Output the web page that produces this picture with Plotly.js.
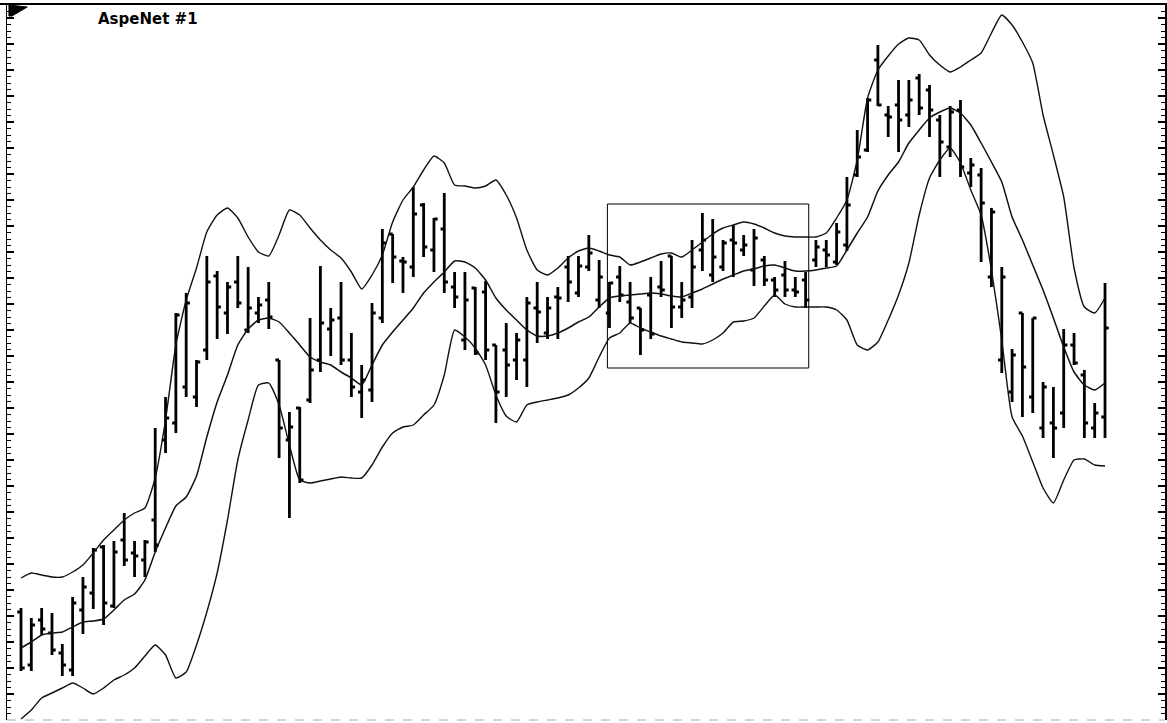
<!DOCTYPE html>
<html>
<head>
<meta charset="utf-8">
<script src="https://cdn.plot.ly/plotly-3.0.1.min.js"></script>
<style>
  html, body { margin: 0; padding: 0; background: #ffffff; }
  #chart { width: 1167px; height: 723px; }
</style>
</head>
<body>
<div id="chart"></div>
<script>
// ---- Data (price units) ----
const chartTitle = "AspeNet #1";

const openP = [111,58,103,90,70,53,113,130,176,117,
  183,170,163,203,283,300,336,326,373,447,
  410,441,393,410,423,363,283,315,323,363,
  394,405,363,331,333,405,489,462,456,518,
  473,494,436,383,435,431,378,373,363,363,
  415,390,426,456,430,456,423,410,446,421,
  415,428,436,467,416,426,473,448,456,483,
  473,453,463,443,448,433,443,463,473,461,
  478,548,573,663,608,618,608,645,633,603,
  576,613,550,548,446,363,331,410,326,295,
  300,310,378,348,295,306];

const highP = [115,105,115,110,79,126,146,175,178,182,
  210,182,183,295,326,410,430,363,467,452,
  441,467,456,426,441,363,311,316,405,457,
  415,441,390,358,420,494,489,466,536,520,
  505,530,451,451,436,442,378,400,390,426,
  441,426,436,467,467,488,463,441,457,441,
  415,446,462,467,441,483,510,504,483,498,
  488,494,467,446,462,446,451,483,483,500,
  546,593,625,678,617,643,643,649,638,608,
  617,623,565,555,515,456,374,410,405,341,
  336,394,390,353,320,440];

const lowP = [52,52,88,68,47,47,89,114,98,115,
  157,146,146,171,270,290,326,316,363,384,
  389,415,390,400,394,265,205,240,320,351,
  367,358,326,305,321,400,440,430,446,466,
  451,430,415,373,368,363,300,326,343,336,
  380,384,384,421,426,452,415,395,421,400,
  368,384,426,395,405,415,452,441,452,446,
  467,437,437,426,426,426,415,456,456,458,
  472,546,571,617,586,571,596,608,586,546,
  566,546,536,461,436,350,321,306,310,285,
  265,295,358,285,285,285];

const closeP = [55,98,94,73,58,120,136,173,120,171,
  163,167,181,178,305,408,420,361,441,416,
  436,420,415,418,406,295,296,243,353,400,
  403,363,336,343,410,480,466,461,509,476,
  504,441,426,423,370,373,331,358,383,420,
  411,415,425,441,457,470,446,440,428,405,
  393,389,433,416,423,456,483,466,480,480,
  478,485,443,433,433,431,423,476,468,491,
  518,566,623,618,606,603,623,615,613,581,
  611,556,558,520,511,446,368,356,405,336,
  295,378,360,300,310,395];

const upperBand = [145,150,148,146,146,151,158,170,183,193,
  203,210,215,245,303,378,423,455,491,508,
  515,505,486,471,467,488,513,508,495,483,
  473,465,451,434,448,468,501,523,536,553,
  567,560,538,537,535,537,543,528,505,473,
  453,448,455,465,472,475,472,468,466,458,
  461,465,469,470,466,473,481,489,495,498,
  501,499,495,490,487,486,486,486,490,505,
  523,563,625,653,667,679,685,683,668,658,
  651,656,663,670,690,708,698,681,660,608,
  568,526,455,416,410,425];

const middleBand = [75,81,88,90,91,96,101,102,104,113,
  123,129,143,171,195,217,226,247,286,321,
  348,378,394,403,405,401,390,378,366,361,
  358,351,345,338,358,378,391,403,415,430,
  441,451,462,461,455,443,425,413,403,393,
  387,387,390,395,401,406,416,425,427,428,
  429,430,429,427,426,430,434,439,444,448,
  452,454,457,458,455,452,452,453,455,457,
  473,490,506,532,548,561,580,593,605,611,
  615,610,598,580,561,541,506,483,458,433,
  405,376,351,338,333,340];

const lowerBand = [4,13,25,30,35,40,35,29,35,43,
  48,55,67,78,68,45,51,78,111,150,
  203,263,303,338,340,318,278,243,240,242,
  244,246,245,245,258,276,290,296,298,308,
  318,348,393,386,375,358,328,307,301,318,
  321,323,325,328,335,345,366,385,390,400,
  395,391,387,384,381,380,379,383,390,401,
  402,405,417,428,419,416,416,416,416,413,
  403,378,373,381,403,428,460,508,545,563,
  575,560,533,508,453,383,306,287,261,235,
  220,243,263,264,258,257];

// highlighted window (bar indices and price bounds)
const highlightBars = [56.8, 76.3];
const highlightPrices = [355, 519];

// ---- Build ----
const barIndex = openP.map((_, i) => i);

const ohlc = {
  type: 'ohlc',
  x: barIndex,
  open: openP, high: highP, low: lowP, close: closeP,
  increasing: { line: { color: '#000000', width: 2.8 } },
  decreasing: { line: { color: '#000000', width: 2.8 } },
  tickwidth: 0.36,
  hoverinfo: 'skip'
};

function band(vals, w) {
  return {
    type: 'scatter', mode: 'lines', x: barIndex, y: vals,
    line: { color: '#111111', width: w, shape: 'spline', smoothing: 0.5 },
    hoverinfo: 'skip'
  };
}

const data = [band(upperBand, 1.4), band(middleBand, 1.5), band(lowerBand, 1.4), ohlc];

const layout = {
  width: 1167, height: 723,
  margin: { l: 7, r: 2, t: 4, b: 3, pad: 0 },
  paper_bgcolor: '#ffffff', plot_bgcolor: '#ffffff',
  showlegend: false,
  title: {
    text: chartTitle,
    x: 98 / 1167, xanchor: 'left', xref: 'container',
    y: 1 - 19 / 723, yanchor: 'middle', yref: 'container',
    font: { family: 'DejaVu Sans, Arial, sans-serif', size: 15, color: '#000000', weight: 'bold' }
  },
  xaxis: {
    range: [-1.356, 110.81],
    showgrid: false, zeroline: false, showticklabels: false,
    ticks: '', showline: false,
    rangeslider: { visible: false },
    fixedrange: true
  },
  yaxis: {
    range: [3, 719],
    showgrid: false, zeroline: false, showticklabels: false,
    showline: true, linecolor: '#000000', linewidth: 1.5,
    mirror: 'allticks',
    ticks: 'inside', tickmode: 'linear', tick0: 3, dtick: 26, ticklen: 7, tickwidth: 1.3, tickcolor: '#000000',
    minor: { ticks: 'inside', tickmode: 'linear', tick0: 3, dtick: 6.5, ticklen: 4, tickwidth: 1, tickcolor: '#000000', showgrid: false },
    fixedrange: true
  },
  shapes: [
    { type: 'line', xref: 'paper', yref: 'paper', x0: -0.007, x1: 1.002, y0: 1, y1: 1,
      line: { color: '#000000', width: 2 } },
    { type: 'line', xref: 'paper', yref: 'paper', x0: 0, x1: 1, y0: 0, y1: 0,
      line: { color: '#aaaaaa', width: 1, dash: 'dash' } },
    { type: 'rect', xref: 'x', yref: 'y',
      x0: highlightBars[0], x1: highlightBars[1], y0: highlightPrices[0], y1: highlightPrices[1],
      line: { color: '#000000', width: 1 }, fillcolor: 'rgba(0,0,0,0)' },
    { type: 'path', xref: 'paper', yref: 'paper',
      path: 'M 0.0017 0.9986 L 0.0175 0.9958 L 0.0043 0.9832 L 0.0017 0.9832 Z',
      fillcolor: '#000000', line: { color: '#000000', width: 1 } }
  ]
};

Plotly.newPlot('chart', data, layout, { staticPlot: true, displayModeBar: false });
</script>
</body>
</html>
